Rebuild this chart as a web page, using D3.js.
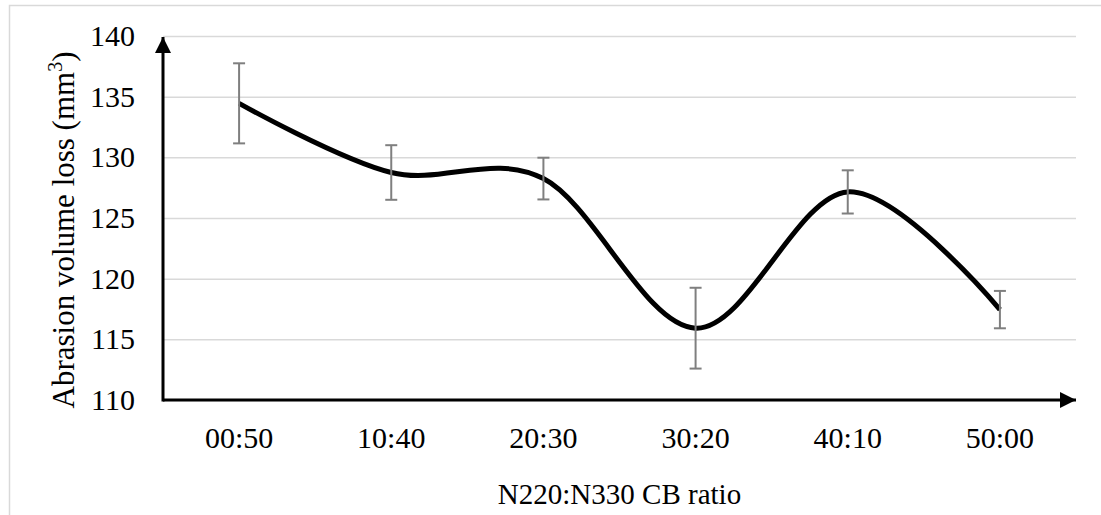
<!DOCTYPE html>
<html>
<head>
<meta charset="utf-8">
<script src="https://cdn.jsdelivr.net/npm/d3@7"></script>
<style>
  html, body { margin: 0; padding: 0; background: #ffffff; }
  svg { display: block; }
  text { font-family: "Liberation Serif", "Times New Roman", serif; fill: #000; }
</style>
</head>
<body>
<svg id="chart" width="1101" height="515"></svg>
<script>
// CB blend ratios (N220:N330) and measured abrasion loss
const categories = ["00:50", "10:40", "20:30", "30:20", "40:10", "50:00"];
const abrasionLoss = [134.45, 128.75, 128.25, 115.92, 127.15, 117.45];
const errorMargin = [3.3, 2.25, 1.72, 3.33, 1.78, 1.54];
const yTicks = [110, 115, 120, 125, 130, 135, 140];

const svg = d3.select("#chart");
const W = 1101, H = 515;
const plotLeft = 163, plotRight = 1076, plotTop = 36, plotBottom = 400;

// outer chart-area frame (left and top edges visible)
svg.append("path")
  .attr("d", `M${W},5.5 H9.5 V${H}`)
  .attr("fill", "none")
  .attr("stroke", "#d9d9d9")
  .attr("stroke-width", 1.5);

const x = d3.scaleBand().domain(categories).range([plotLeft, plotRight]).padding(0);
const y = d3.scaleLinear().domain([110, 140]).range([plotBottom, plotTop]);

// horizontal gridlines
const grid = svg.append("g")
  .attr("transform", `translate(${plotLeft},0)`)
  .call(d3.axisLeft(y).tickValues(yTicks).tickSize(-(plotRight - plotLeft)).tickFormat(""));
grid.select(".domain").remove();
grid.selectAll(".tick line").attr("stroke", "#d9d9d9").attr("stroke-width", 1.5);

// y tick labels
const yAxis = svg.append("g")
  .attr("transform", `translate(${plotLeft - 28},0)`)
  .call(d3.axisLeft(y).tickValues(yTicks).tickSize(0).tickPadding(0));
yAxis.select(".domain").remove();
yAxis.selectAll("text")
  .style("font-family", "'Liberation Serif', 'Times New Roman', serif")
  .attr("font-size", 30)
  .attr("fill", "#000");

// x tick labels
const xAxis = svg.append("g")
  .attr("transform", `translate(0,${plotBottom})`)
  .call(d3.axisBottom(x).tickSize(0).tickPadding(27));
xAxis.select(".domain").remove();
xAxis.selectAll("text")
  .style("font-family", "'Liberation Serif', 'Times New Roman', serif")
  .attr("font-size", 30)
  .attr("fill", "#000");

// axis lines with arrowheads
const defs = svg.append("defs");
defs.append("marker")
  .attr("id", "arrow")
  .attr("viewBox", "0 0 16 16")
  .attr("refX", 16).attr("refY", 8)
  .attr("markerWidth", 16).attr("markerHeight", 16)
  .attr("markerUnits", "userSpaceOnUse")
  .attr("orient", "auto")
  .append("path")
  .attr("d", "M0,0 L16,8 L0,16 Z")
  .attr("fill", "#000");

svg.append("line")
  .attr("x1", plotLeft).attr("y1", plotBottom)
  .attr("x2", plotRight).attr("y2", plotBottom)
  .attr("stroke", "#000").attr("stroke-width", 3)
  .attr("marker-end", "url(#arrow)");
svg.append("line")
  .attr("x1", plotLeft).attr("y1", plotBottom + 1.5)
  .attr("x2", plotLeft).attr("y2", plotTop + 1)
  .attr("stroke", "#000").attr("stroke-width", 3)
  .attr("marker-end", "url(#arrow)");

const cx = d => x(d) + x.bandwidth() / 2;

// smoothed series line
const line = d3.line()
  .x((d, i) => cx(categories[i]))
  .y(d => y(d))
  .curve(d3.curveCatmullRom.alpha(0));

svg.append("path")
  .datum(abrasionLoss)
  .attr("d", line)
  .attr("fill", "none")
  .attr("stroke", "#000")
  .attr("stroke-width", 5)
  .attr("stroke-linejoin", "round");

// error bars
const eb = svg.append("g")
  .attr("stroke", "#7f7f7f")
  .attr("stroke-width", 2)
  .selectAll("g")
  .data(categories)
  .join("g");
const capW = 6;
eb.append("line")
  .attr("x1", cx).attr("x2", cx)
  .attr("y1", (d, i) => y(abrasionLoss[i] + errorMargin[i]))
  .attr("y2", (d, i) => y(abrasionLoss[i] - errorMargin[i]));
eb.append("line")
  .attr("x1", d => cx(d) - capW).attr("x2", d => cx(d) + capW)
  .attr("y1", (d, i) => y(abrasionLoss[i] + errorMargin[i]))
  .attr("y2", (d, i) => y(abrasionLoss[i] + errorMargin[i]));
eb.append("line")
  .attr("x1", d => cx(d) - capW).attr("x2", d => cx(d) + capW)
  .attr("y1", (d, i) => y(abrasionLoss[i] - errorMargin[i]))
  .attr("y2", (d, i) => y(abrasionLoss[i] - errorMargin[i]));

// axis titles
svg.append("text")
  .attr("x", (plotLeft + plotRight) / 2)
  .attr("y", 504)
  .attr("text-anchor", "middle")
  .attr("font-size", 29)
  .text("N220:N330 CB ratio");

const yTitle = svg.append("text")
  .attr("transform", `translate(74,230) rotate(-90)`)
  .attr("text-anchor", "middle")
  .attr("font-size", 31);
yTitle.append("tspan").text("Abrasion volume loss (mm");
yTitle.append("tspan").attr("font-size", 20).attr("dy", -12).text("3");
yTitle.append("tspan").attr("dy", 12).text(")");
</script>
</body>
</html>
